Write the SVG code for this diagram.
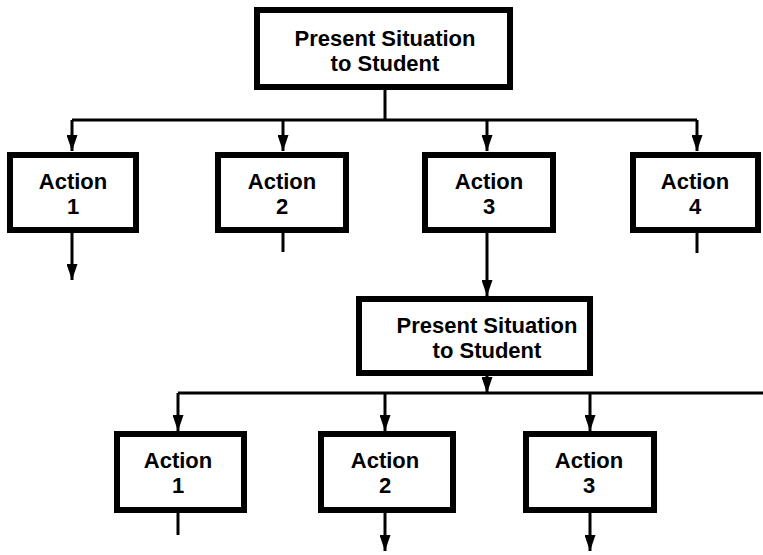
<svg xmlns="http://www.w3.org/2000/svg" width="763" height="555" viewBox="0 0 763 555">
<style>
.box{fill:#fff;stroke:#000;stroke-width:6}
.t{font-family:"Liberation Sans",Arial,sans-serif;font-weight:bold;font-size:22px;fill:#000;text-anchor:middle}
.c{stroke:#000;stroke-width:3;fill:none}
</style>
<defs>
<marker id="arr" markerUnits="userSpaceOnUse" markerWidth="16" markerHeight="11" viewBox="0 0 16 11" refX="16" refY="5.5" orient="auto">
<path d="M0,0 L16,5.5 L0,11 Z" fill="#000"/>
</marker>
</defs>
<g id="connectors">
<path class="c" d="M385,88 V120"/>
<path class="c" d="M72,120 H697"/>
<path class="c" d="M72,120 V151" marker-end="url(#arr)"/>
<path class="c" d="M283,120 V151" marker-end="url(#arr)"/>
<path class="c" d="M487,120 V151" marker-end="url(#arr)"/>
<path class="c" d="M697,120 V151" marker-end="url(#arr)"/>
<path class="c" d="M72,231 V280" marker-end="url(#arr)"/>
<path class="c" d="M283,231 V252"/>
<path class="c" d="M487,231 V296" marker-end="url(#arr)"/>
<path class="c" d="M697,231 V253"/>
<path class="c" d="M487,374 V393" marker-end="url(#arr)"/>
<path class="c" d="M178,393 H763"/>
<path class="c" d="M178,393 V431" marker-end="url(#arr)"/>
<path class="c" d="M385,393 V431" marker-end="url(#arr)"/>
<path class="c" d="M590,393 V431" marker-end="url(#arr)"/>
<path class="c" d="M178,511 V535"/>
<path class="c" d="M385,511 V551" marker-end="url(#arr)"/>
<path class="c" d="M590,511 V551" marker-end="url(#arr)"/>
</g>
<g id="present1">
<rect class="box" x="257" y="10" width="253" height="77"/>
<text class="t" x="385" y="46">Present Situation</text>
<text class="t" x="385" y="71">to Student</text>
</g>
<g id="action1a">
<rect class="box" x="10" y="155" width="126" height="75"/>
<text class="t" x="73" y="189">Action</text>
<text class="t" x="73" y="214">1</text>
</g>
<g id="action2a">
<rect class="box" x="218" y="155" width="128" height="75"/>
<text class="t" x="282" y="189">Action</text>
<text class="t" x="282" y="214">2</text>
</g>
<g id="action3a">
<rect class="box" x="425" y="155" width="128" height="75"/>
<text class="t" x="489" y="189">Action</text>
<text class="t" x="489" y="214">3</text>
</g>
<g id="action4a">
<rect class="box" x="633" y="155" width="125" height="75"/>
<text class="t" x="695" y="189">Action</text>
<text class="t" x="695" y="214">4</text>
</g>
<g id="present2">
<rect class="box" x="359" y="299" width="231" height="74"/>
<text class="t" x="487" y="333">Present Situation</text>
<text class="t" x="487" y="358">to Student</text>
</g>
<g id="action1b">
<rect class="box" x="117" y="434" width="127" height="76"/>
<text class="t" x="178" y="468">Action</text>
<text class="t" x="178" y="493">1</text>
</g>
<g id="action2b">
<rect class="box" x="321" y="434" width="132" height="76"/>
<text class="t" x="385" y="468">Action</text>
<text class="t" x="385" y="493">2</text>
</g>
<g id="action3b">
<rect class="box" x="526" y="434" width="128" height="76"/>
<text class="t" x="589" y="468">Action</text>
<text class="t" x="589" y="493">3</text>
</g>
</svg>
